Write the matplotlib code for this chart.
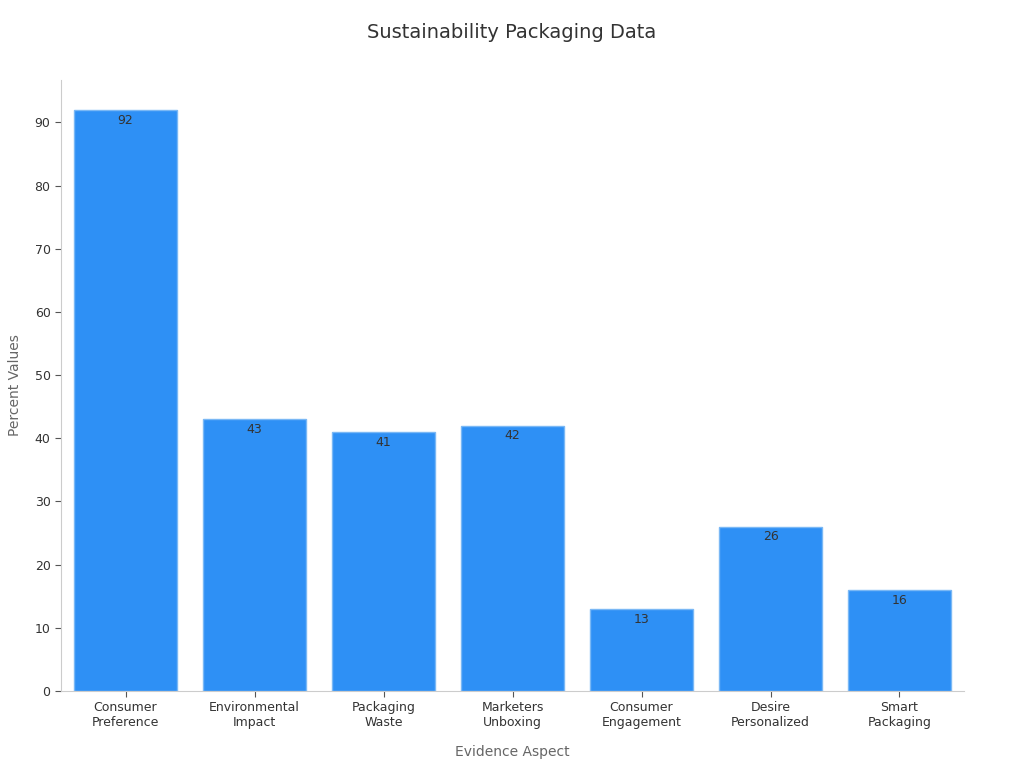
import matplotlib
matplotlib.use("Agg")
import matplotlib.pyplot as plt
import numpy as np

categories = ["Consumer\nPreference", "Environmental\nImpact", "Packaging\nWaste",
              "Marketers\nUnboxing", "Consumer\nEngagement", "Desire\nPersonalized",
              "Smart\nPackaging"]
values = [92, 43, 41, 42, 13, 26, 16]

fig = plt.figure(figsize=(10.24, 7.68), dpi=100)
ax = fig.add_axes([0.0596, 0.1003, 0.8818, 0.7955])

x = np.arange(len(categories))
bars = ax.bar(x, values, width=0.8, color="#2e90f5", edgecolor="#7ab8f5", linewidth=1)

for xi, v in zip(x, values):
    ax.text(xi, v - 0.6, str(v), ha="center", va="top", fontsize=9, color="#333333")

ax.set_xlim(-0.5, len(categories) - 0.5)
ax.set_ylim(0, 96.7)
ax.set_yticks(range(0, 91, 10))
ax.set_xticks(x)
ax.set_xticklabels(categories, fontsize=9, color="#333333")
ax.tick_params(axis="y", labelsize=9, labelcolor="#333333", color="#555555", length=4)
ax.tick_params(axis="x", color="#555555", length=4)

for s in ["top", "right"]:
    ax.spines[s].set_visible(False)
for s in ["left", "bottom"]:
    ax.spines[s].set_color("#cccccc")

ax.set_xlabel("Evidence Aspect", fontsize=10, color="#666666", labelpad=11)
ax.set_ylabel("Percent Values", fontsize=10, color="#666666", labelpad=9)
fig.suptitle("Sustainability Packaging Data", fontsize=14, color="#333333", y=0.97)

fig.savefig("out.png", dpi=100)
